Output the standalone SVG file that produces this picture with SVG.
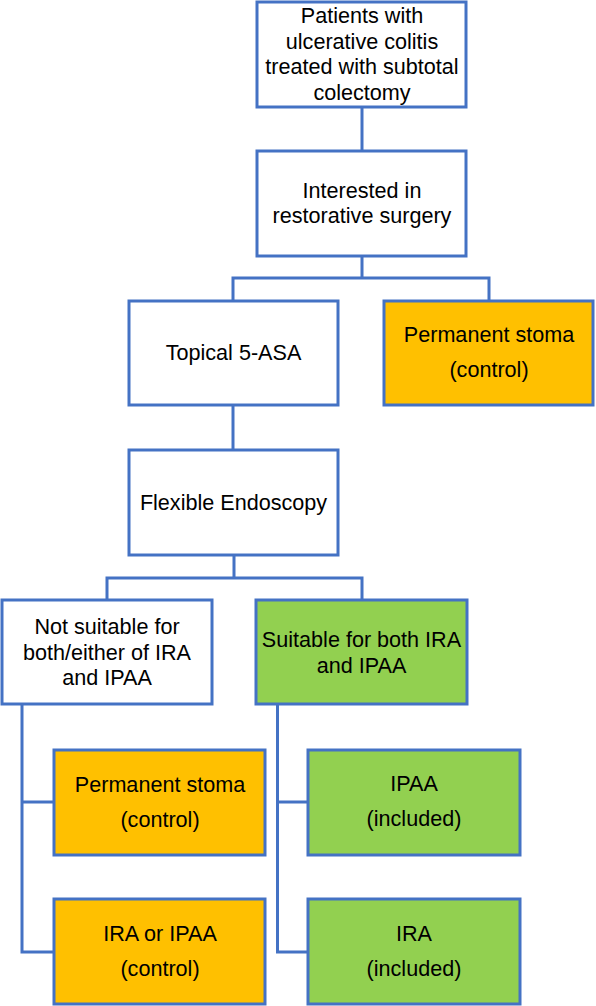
<svg xmlns="http://www.w3.org/2000/svg" width="596" height="1006" viewBox="0 0 596 1006">
<style>
.box{stroke:#4472C4;stroke-width:3;fill:#FFFFFF}
.orange{fill:#FFC000}
.green{fill:#92D050}
.conn{stroke:#4472C4;stroke-width:3;fill:none}
text{font-family:"Liberation Sans",Arial,sans-serif;font-size:21.6px;fill:#000;text-anchor:middle}
</style>
<rect width="596" height="1006" fill="#FFFFFF"/>
<g id="connectors">
<path class="conn" d="M362,107 V151"/>
<path class="conn" d="M362,256 V278 M233,301 V278 H489 V301"/>
<path class="conn" d="M233,405 V450"/>
<path class="conn" d="M234,555 V578 M107,600 V578 H362 V600"/>
<path class="conn" d="M22,704 V952 H54 M22,802 H54"/>
<path class="conn" d="M277.5,704 V952 H308 M277.5,802 H308"/>
</g>
<g id="n1">
<rect class="box" x="257" y="2" width="209" height="105"/>
<text x="362" y="23">Patients with</text>
<text x="362" y="48.5">ulcerative colitis</text>
<text x="362" y="74">treated with subtotal</text>
<text x="362" y="99.5">colectomy</text>
</g>
<g id="n2">
<rect class="box" x="257" y="151" width="209" height="105"/>
<text x="362" y="198">Interested in</text>
<text x="362" y="223">restorative surgery</text>
</g>
<g id="n3">
<rect class="box" x="129" y="301" width="209" height="104"/>
<text x="233.5" y="360">Topical 5-ASA</text>
</g>
<g id="n4">
<rect class="box orange" x="384" y="301" width="209" height="104"/>
<text x="489" y="342">Permanent stoma</text>
<text x="489" y="377">(control)</text>
</g>
<g id="n5">
<rect class="box" x="129" y="450" width="209" height="105"/>
<text x="233.5" y="510">Flexible Endoscopy</text>
</g>
<g id="n6">
<rect class="box" x="2" y="600" width="210" height="104"/>
<text x="107" y="634">Not suitable for</text>
<text x="107" y="659.5">both/either of IRA</text>
<text x="107" y="685">and IPAA</text>
</g>
<g id="n7">
<rect class="box green" x="256" y="600" width="211" height="104"/>
<text x="361.5" y="647">Suitable for both IRA</text>
<text x="361.5" y="672.5">and IPAA</text>
</g>
<g id="n8">
<rect class="box orange" x="54" y="750" width="211" height="105"/>
<text x="160" y="792">Permanent stoma</text>
<text x="160" y="826.5">(control)</text>
</g>
<g id="n9">
<rect class="box orange" x="54" y="899" width="211" height="105"/>
<text x="160" y="941">IRA or IPAA</text>
<text x="160" y="976">(control)</text>
</g>
<g id="n10">
<rect class="box green" x="308" y="750" width="212" height="105"/>
<text x="414" y="791">IPAA</text>
<text x="414" y="826">(included)</text>
</g>
<g id="n11">
<rect class="box green" x="308" y="899" width="212" height="105"/>
<text x="414" y="941">IRA</text>
<text x="414" y="976">(included)</text>
</g>
</svg>
